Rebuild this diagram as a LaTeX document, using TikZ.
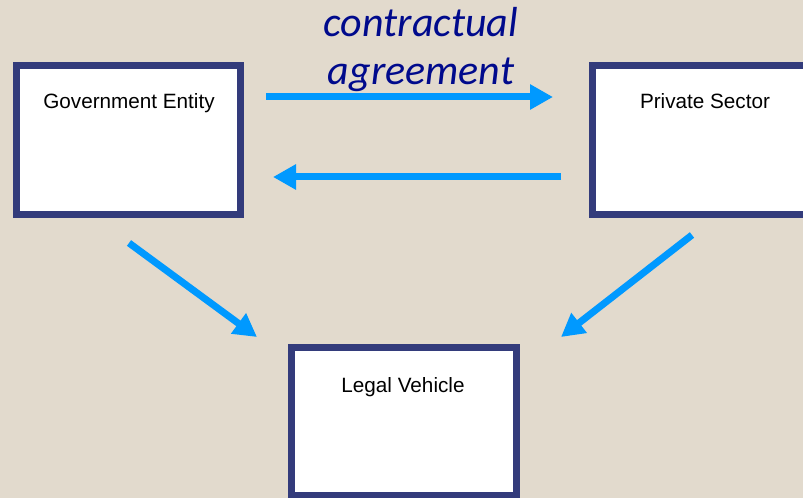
\documentclass[tikz,border=0pt]{standalone}
\usepackage{fontspec}
\setmainfont{Liberation Sans}
\newfontfamily\calib{Carlito}
\usetikzlibrary{arrows.meta}
\definecolor{paper}{HTML}{E2DACD}
\definecolor{frame}{HTML}{333B7B}
\definecolor{flow}{HTML}{0099FF}
\definecolor{ink}{HTML}{000A8C}
\tikzset{
  party/.style={draw=frame, fill=white, line width=7bp, rectangle,
    inner sep=0pt, outer sep=0pt},
  partyname/.style={anchor=base, inner sep=0pt,
    font=\fontsize{20.7bp}{25bp}\selectfont, text=black},
  flowarrow/.style={draw=flow, line width=7bp,
    -{Triangle[length=23bp,width=24bp]}},
  note/.style={anchor=base, inner sep=0pt, text=ink,
    font=\calib\itshape\fontsize{42bp}{48bp}\selectfont}
}
\begin{document}
\begin{tikzpicture}[x=1bp,y=-1bp]
  \useasboundingbox (0,0) rectangle (803,498);
  \clip (0,0) rectangle (803,498);
  \fill[paper] (0,0) rectangle (803,498);

  % the three parties
  \node[party, minimum width=224bp, minimum height=149bp] (gov) at (128.5,140) {};
  \node[party, minimum width=224bp, minimum height=149bp] (priv) at (704.5,140) {};
  \node[party, minimum width=225bp, minimum height=148bp] (legal) at (404,421.5) {};
  \node[partyname] (govname) at (129,109) {Government Entity};
  \node[partyname] (privname) at (705,109) {Private Sector};
  \node[partyname] (legalname) at (403,392) {Legal Vehicle};

  % arrow end points
  \coordinate (a1s) at (266,97);  \coordinate (a1e) at (553,97);
  \coordinate (a2s) at (561,177); \coordinate (a2e) at (273,177);
  \coordinate (a3s) at (129,243); \coordinate (a3e) at (257,337);
  \coordinate (a4s) at (692,235); \coordinate (a4e) at (561,337);

  \draw[flowarrow] (a1s) -- (a1e);
  \draw[flowarrow] (a2s) -- (a2e);
  \draw[flowarrow] (a3s) -- (a3e);
  \draw[flowarrow] (a4s) -- (a4e);

  % label over the top arrow
  \node[note] (lab1) at (421,37) {contractual};
  \node[note] (lab2) at (421,85) {agreement};
\end{tikzpicture}
\end{document}
